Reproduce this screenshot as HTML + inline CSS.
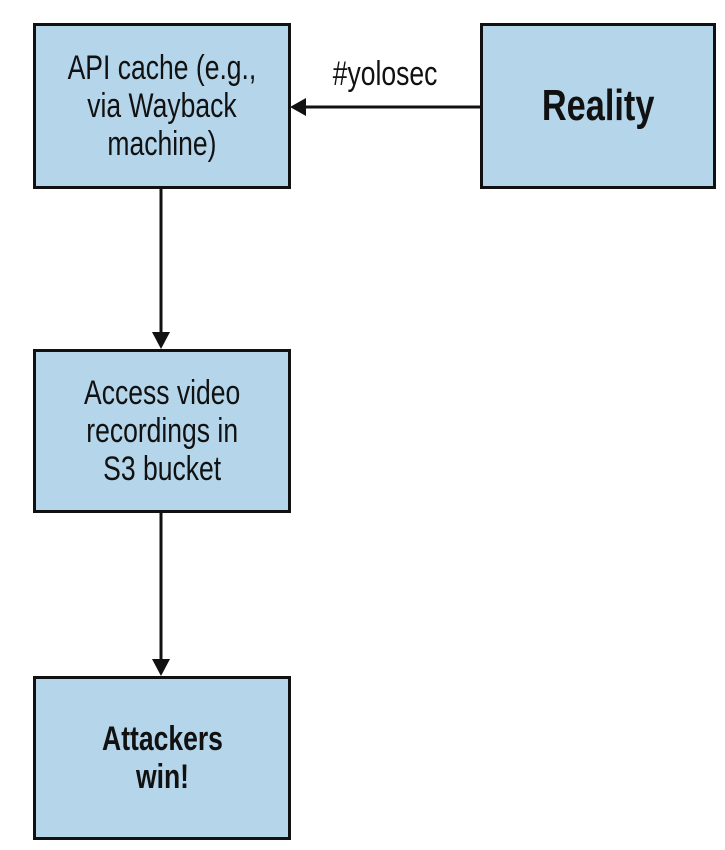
<!DOCTYPE html>
<html><head><style>
body{margin:0;width:725px;height:850px;background:#fff;position:relative;overflow:hidden;font-family:"Liberation Sans",sans-serif}
.b{position:absolute;background:#b4d5ea;border:3px solid #111;box-sizing:border-box;display:flex;align-items:center;justify-content:center;text-align:center}
.t{display:inline-block;transform:scaleX(0.78);font-size:34px;line-height:38px;color:#111;white-space:nowrap}
.bold{font-weight:bold}
</style></head><body>
<div class="b" style="left:33px;top:23px;width:258px;height:166px"><span class="t">API cache (e.g.,<br>via Wayback<br>machine)</span></div>
<div class="b" style="left:480px;top:23px;width:236px;height:166px"><span class="t bold" style="font-size:44px">Reality</span></div>
<div class="b" style="left:33px;top:349px;width:258px;height:164px"><span class="t">Access video<br>recordings in<br>S3 bucket</span></div>
<div class="b" style="left:33px;top:676px;width:258px;height:164px"><span class="t bold">Attackers<br>win!</span></div>
<div style="position:absolute;left:300px;top:55px;width:170px;text-align:center"><span class="t">#yolosec</span></div>
<svg width="725" height="850" style="position:absolute;left:0;top:0">
<line x1="480" y1="107" x2="300" y2="107" stroke="#111" stroke-width="3"/>
<polygon points="290,107 306,98 306,116" fill="#111"/>
<line x1="161" y1="189" x2="161" y2="335" stroke="#111" stroke-width="3"/>
<polygon points="161,349 152,332 170,332" fill="#111"/>
<line x1="161" y1="513" x2="161" y2="662" stroke="#111" stroke-width="3"/>
<polygon points="161,676 152,659 170,659" fill="#111"/>
</svg>
</body></html>
